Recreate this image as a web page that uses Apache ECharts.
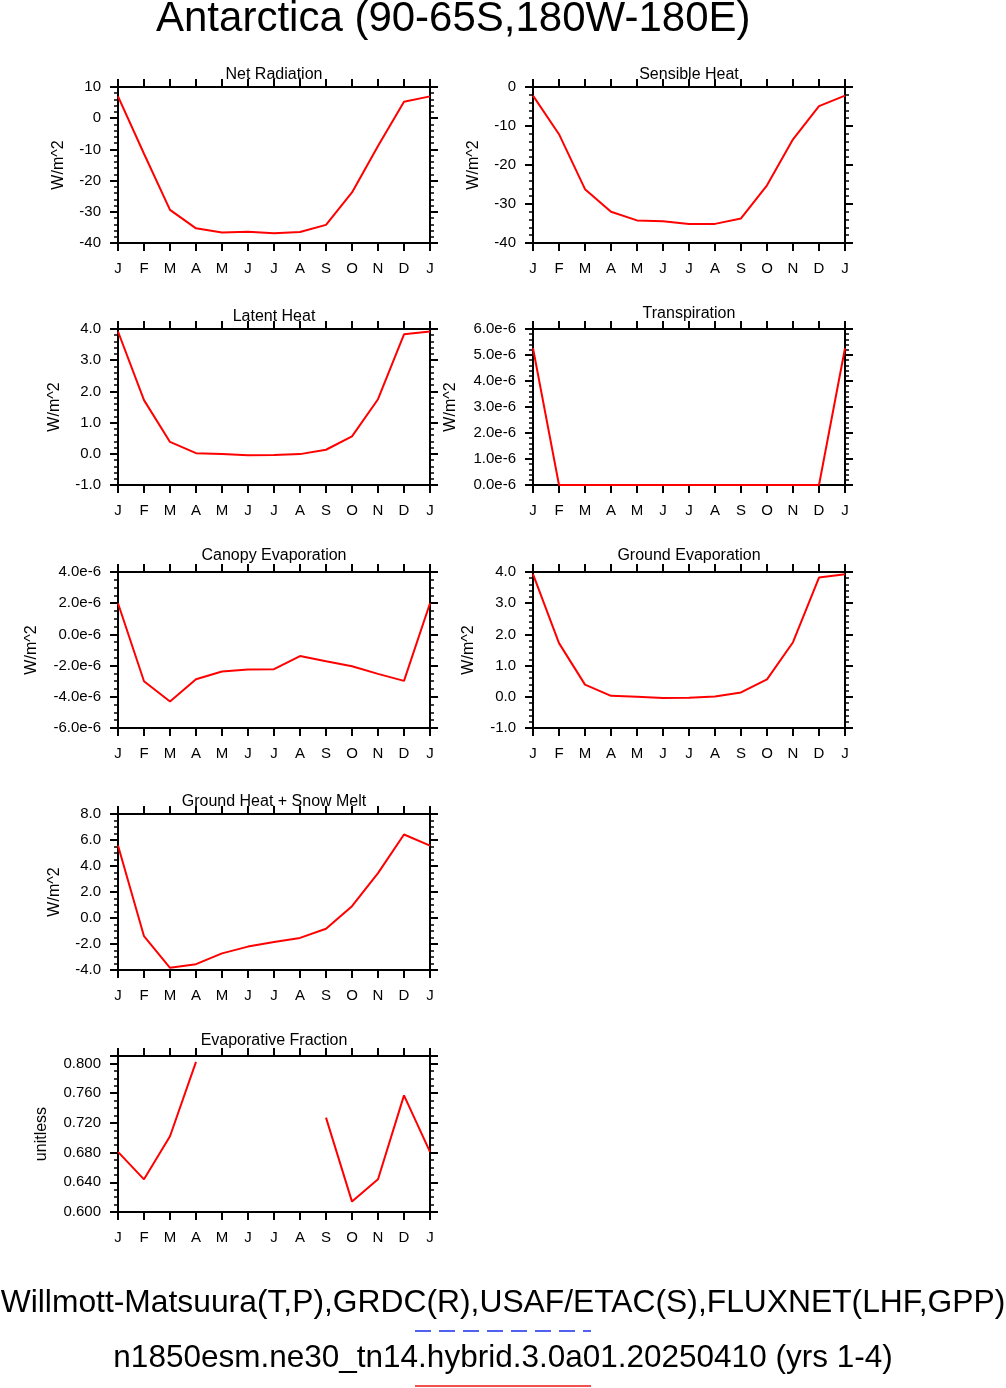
<!DOCTYPE html>
<html>
<head>
<meta charset="utf-8">
<script src="https://cdn.jsdelivr.net/npm/echarts@6/dist/echarts.min.js"></script>
<style>
  html, body { margin: 0; padding: 0; background: #fff; }
  #main { width: 1006px; height: 1388px; }
</style>
</head>
<body>
<div id="main"></div>
<script>
var chart = echarts.init(document.getElementById('main'));

var months = ['J', 'F', 'M', 'A', 'M', 'J', 'J', 'A', 'S', 'O', 'N', 'D', 'J'];

var netRadiation = [7.0, -11.4, -29.4, -35.3, -36.6, -36.4, -36.9, -36.5, -34.2, -23.8, -8.9, 5.3, 7.0];
var sensibleHeat = [-2.2, -12.1, -26.2, -32.0, -34.2, -34.4, -35.1, -35.1, -33.7, -25.2, -13.4, -4.9, -2.2];
var latentHeat = [3.92, 1.72, 0.38, 0.02, -0.01, -0.05, -0.04, -0.01, 0.13, 0.56, 1.75, 3.83, 3.92];
var transpiration = [5.26e-6, 0, 0, 0, 0, 0, 0, 0, 0, 0, 0, 0, 5.26e-6];
var canopyEvap = [2.0e-6, -3.0e-6, -4.3e-6, -2.88e-6, -2.38e-6, -2.25e-6, -2.23e-6, -1.39e-6, -1.72e-6, -2.04e-6, -2.53e-6, -2.98e-6, 2.0e-6];
var groundEvap = [3.93, 1.72, 0.39, 0.03, 0.0, -0.04, -0.03, 0.01, 0.14, 0.56, 1.75, 3.82, 3.93];
var groundHeatSnow = [5.57, -1.40, -3.83, -3.55, -2.72, -2.20, -1.84, -1.53, -0.83, 0.91, 3.45, 6.42, 5.57];
var evapFraction = [0.681, 0.644, 0.702, 0.802, null, null, null, null, 0.727, 0.614, 0.644, 0.757, 0.681];

var FONT = 'Liberation Sans, Arial, Helvetica, sans-serif';

// panel settings: title, data, y range and label style
var panels = [
  { title: 'Net Radiation', data: netRadiation, min: -40, max: 10, step: 10, minor: 5, fmt: 0, name: 'W/m^2', gap: 51, tgap: 4, col: 0, row: 0 },
  { title: 'Sensible Heat', data: sensibleHeat, min: -40, max: 0, step: 10, minor: 5, fmt: 0, name: 'W/m^2', gap: 51, tgap: 4, col: 1, row: 0 },
  { title: 'Latent Heat', data: latentHeat, min: -1, max: 4, step: 1, minor: 5, fmt: 1, name: 'W/m^2', gap: 55, tgap: 4, col: 0, row: 1 },
  { title: 'Transpiration', data: transpiration, min: 0, max: 6e-6, step: 1e-6, minor: 5, fmt: 'e', name: 'W/m^2', gap: 74, tgap: 7, col: 1, row: 1 },
  { title: 'Canopy Evaporation', data: canopyEvap, min: -6e-6, max: 4e-6, step: 2e-6, minor: 4, fmt: 'e', name: 'W/m^2', gap: 78, tgap: 8, col: 0, row: 2 },
  { title: 'Ground Evaporation', data: groundEvap, min: -1, max: 4, step: 1, minor: 5, fmt: 1, name: 'W/m^2', gap: 56, tgap: 8, col: 1, row: 2 },
  { title: 'Ground Heat + Snow Melt', data: groundHeatSnow, min: -4, max: 8, step: 2, minor: 4, fmt: 1, name: 'W/m^2', gap: 55, tgap: 4, col: 0, row: 3 },
  { title: 'Evaporative Fraction', data: evapFraction, min: 0.6, max: 0.81, step: 0.04, minor: 4, fmt: 3, name: 'unitless', gap: 68, tgap: 7, col: 0, row: 4 }
];

var colLeft = [118, 533];
var rowTop = [87, 329, 572, 814, 1056];

function labelFmt(p) {
  return function (v) {
    var k = Math.round((v - p.min) / p.step);
    if (Math.abs(p.min + k * p.step - v) > p.step * 1e-3) return '';
    if (p.fmt === 'e') return (v / 1e-6).toFixed(1).replace('-0.0', '0.0') + 'e-6';
    return v.toFixed(p.fmt);
  };
}

var grid = [], xAxis = [], yAxis = [], series = [];
var lineStyle = { color: '#000', width: 2 };
var tickStyle = { color: '#000', width: 2 };

panels.forEach(function (p, i) {
  grid.push({ left: colLeft[p.col], top: rowTop[p.row], width: 312, height: 156 });
  xAxis.push({
    type: 'category', gridIndex: i, data: months, boundaryGap: false, position: 'bottom',
    axisLine: { lineStyle: lineStyle, onZero: false },
    axisTick: { length: 8, lineStyle: tickStyle, interval: 0 },
    axisLabel: { interval: 0, margin: 18, fontSize: 15, color: '#000', fontFamily: FONT },
    splitLine: { show: false }
  });
  xAxis.push({
    type: 'category', gridIndex: i, data: months, boundaryGap: false, position: 'top',
    name: p.title, nameLocation: 'middle', nameGap: p.tgap,
    nameTextStyle: { fontSize: 16, color: '#000', fontFamily: FONT, verticalAlign: 'bottom' },
    axisLine: { lineStyle: lineStyle, onZero: false },
    axisTick: { length: 8, lineStyle: tickStyle, interval: 0 },
    axisLabel: { show: false },
    splitLine: { show: false }
  });
  var yBase = {
    type: 'value', gridIndex: i, min: p.min, max: p.max, interval: p.step,
    axisLine: { show: true, lineStyle: lineStyle, onZero: false },
    axisTick: { show: true, length: 8, lineStyle: tickStyle },
    minorTick: { show: true, splitNumber: p.minor, length: 4, lineStyle: { color: '#000', width: 1.5 } },
    splitLine: { show: false }
  };
  yAxis.push(Object.assign({}, yBase, {
    position: 'left', name: p.name, nameLocation: 'middle', nameGap: p.gap, nameRotate: 90,
    nameTextStyle: { fontSize: 16, color: '#000', fontFamily: FONT },
    axisLabel: { margin: 17, fontSize: 15, color: '#000', fontFamily: FONT, formatter: labelFmt(p), showMaxLabel: true }
  }));
  yAxis.push(Object.assign({}, yBase, {
    position: 'right', axisLabel: { show: false }
  }));
  series.push({
    type: 'line', xAxisIndex: 2 * i, yAxisIndex: 2 * i, data: p.data,
    showSymbol: false, symbol: 'none', connectNulls: false, clip: true,
    lineStyle: { color: '#ff0000', width: 2 }, animation: false
  });
});

var option = {
  backgroundColor: '#fff',
  animation: false,
  title: {
    text: 'Antarctica (90-65S,180W-180E)', left: 156, top: -2, padding: 0,
    textStyle: { fontSize: 42, fontWeight: 'normal', color: '#000', fontFamily: FONT }
  },
  grid: grid,
  xAxis: xAxis,
  yAxis: yAxis,
  series: series,
  graphic: [
    { type: 'text', left: 'center', top: 1287,
      style: { text: 'Willmott-Matsuura(T,P),GRDC(R),USAF/ETAC(S),FLUXNET(LHF,GPP)', fontSize: 31.8, fontFamily: FONT, fill: '#000' } },
    { type: 'text', left: 'center', top: 1342,
      style: { text: 'n1850esm.ne30_tn14.hybrid.3.0a01.20250410 (yrs 1-4)', fontSize: 31.5, fontFamily: FONT, fill: '#000' } },
    { type: 'line', shape: { x1: 415, y1: 1331, x2: 591, y2: 1331 },
      style: { stroke: '#5060f0', lineWidth: 2, lineDash: [16, 8] } },
    { type: 'line', shape: { x1: 415, y1: 1386, x2: 591, y2: 1386 },
      style: { stroke: '#f05050', lineWidth: 2 } }
  ]
};

chart.setOption(option);
</script>
</body>
</html>
